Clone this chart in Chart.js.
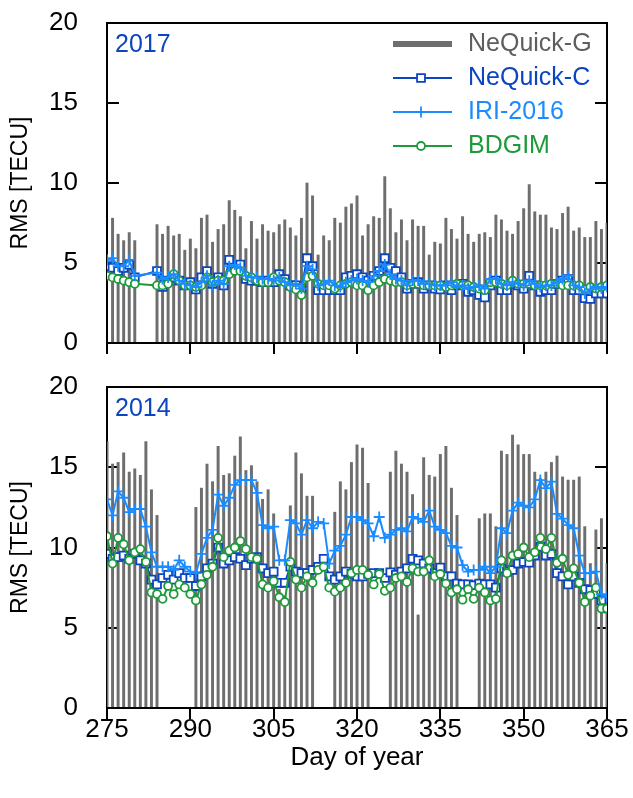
<!DOCTYPE html>
<html>
<head>
<meta charset="utf-8">
<script src="https://cdn.jsdelivr.net/npm/chart.js@4.4.1/dist/chart.umd.min.js"></script>
<style>
  html, body { margin: 0; padding: 0; background: #fff; }
  #wrap { position: relative; width: 633px; height: 798px; overflow: hidden; }
  #wrap canvas { position: absolute; left: 0; }
  #c2017 { top: 0; }
  #c2014 { top: 364px; }
</style>
</head>
<body>
<div id="wrap">
  <canvas id="c2014" width="633" height="434"></canvas>
  <canvas id="c2017" width="633" height="370"></canvas>
</div>
<script>
// Day of year (autumn season)
const days = [
  275, 276, 277, 278, 279, 280, 281, 282, 283, 284,
  285, 286, 287, 288, 289, 290, 291, 292, 293, 294,
  295, 296, 297, 298, 299, 300, 301, 302, 303, 304,
  305, 306, 307, 308, 309, 310, 311, 312, 313, 314,
  315, 316, 317, 318, 319, 320, 321, 322, 323, 324,
  325, 326, 327, 328, 329, 330, 331, 332, 333, 334,
  335, 336, 337, 338, 339, 340, 341, 342, 343, 344,
  345, 346, 347, 348, 349, 350, 351, 352, 353, 354,
  355, 356, 357, 358, 359, 360, 361, 362, 363, 364,
  365
];

const xTickLabels = [275, 290, 305, 320, 335, 350, 365];
const yTickLabels = [0, 5, 10, 15, 20];
const seriesNames = ['NeQuick-G', 'NeQuick-C', 'IRI-2016', 'BDGIM'];

// ---- 2017: RMS [TECU] per day ----
const nequickG2017 = [
  null, 7.8, 6.8, 6.4, 6.9, 6.4, null, null, null, 7.4,
  6.8, 7.3, 6.7, 6.8, 5.8, 6.5, 5.9, 7.8, 8.0, 6.3,
  7.1, 7.4, 8.9, 8.3, 7.9, 5.9, 7.6, 6.5, 7.4, 7.0,
  6.9, 7.4, 7.7, 7.2, 6.7, 7.8, 10.0, 9.2, 5.5, 6.7,
  6.4, 7.8, 7.5, 8.5, 8.7, 9.2, 6.7, 7.4, 7.9, 7.8,
  10.4, 8.4, 6.9, 7.7, 6.4, 7.7, 7.3, 7.3, 5.5, 6.3,
  6.2, 7.8, 7.1, 6.5, 7.9, 6.8, 6.3, 6.8, 6.9, 6.6,
  8.0, 7.7, 7.0, 6.8, 7.6, 8.4, 9.9, 8.2, 8.0, 8.0,
  7.2, 7.1, 8.1, 8.5, 7.0, 7.2, 6.6, 6.6, 7.6, 7.1,
  7.5
];
const nequickC2017 = [
  4.8, 4.7, 4.5, 4.7, 4.9, 4.1, null, null, null, 4.5,
  3.5, 3.9, 4.1, 3.9, 3.6, 3.8, 3.35, 4.1, 4.5, 3.7,
  4.1, 3.6, 5.2, 4.6, 4.9, 4.0, 3.9, 3.9, 3.8, 3.9,
  3.8, 4.3, 4.0, 3.6, 3.6, 3.4, 5.3, 4.8, 3.3, 3.3,
  3.3, 3.3, 3.3, 4.1, 4.2, 4.3, 4.1, 3.9, 4.2, 4.5,
  5.3, 4.7, 4.5, 4.1, 3.4, 3.7, 3.8, 3.4, 3.6, 3.4,
  3.35, 3.6, 3.3, 3.6, 3.7, 3.2, 3.3, 3.0, 2.85, 3.6,
  3.9, 3.3, 3.3, 3.7, 3.6, 3.4, 4.2, 3.6, 3.2, 3.3,
  3.3, 3.7, 3.9, 4.0, 3.3, 3.3, 2.8, 2.75, 3.1, 3.1,
  3.1
];
const iri2017 = [
  5.2, 5.3, 4.8, 4.8, 5.2, 4.2, null, null, null, 4.4,
  4.0, 4.1, 4.3, 3.9, 3.7, 3.6, 3.5, 3.8, 4.2, 3.6,
  3.9, 3.7, 4.8, 4.9, 4.7, 4.2, 4.1, 4.1, 4.0, 4.0,
  3.9, 4.1, 3.8, 3.6, 3.7, 3.4, 4.8, 4.6, 3.6, 3.7,
  3.9, 3.6, 3.5, 3.8, 3.9, 4.0, 3.9, 3.8, 4.2, 4.5,
  4.9, 4.3, 4.0, 3.9, 3.6, 3.9, 3.9, 3.7, 3.7, 3.6,
  3.6, 3.6, 3.8, 3.5, 3.6, 3.4, 3.5, 3.6, 3.4, 4.0,
  4.0, 3.7, 3.6, 3.8, 3.7, 3.6, 3.9, 3.7, 3.5, 3.6,
  3.6, 3.8, 4.0, 4.2, 3.6, 3.5, 3.1, 3.35, 3.5, 3.4,
  3.5
];
const bdgim2017 = [
  4.2, 4.1, 4.0, 3.9, 3.8, 3.7, null, null, null, 3.6,
  3.6, 3.7, 4.3, 3.9, 3.6, 3.6, 3.5, 3.6, 4.1, 3.8,
  3.9, 3.9, 4.3, 4.5, 4.5, 4.2, 4.1, 3.9, 3.8, 3.8,
  4.1, 3.9, 3.8, 3.5, 3.35, 3.0, 4.1, 4.2, 3.7, 3.6,
  3.6, 3.4, 3.6, 3.7, 3.8, 3.6, 3.6, 3.3, 3.6, 3.8,
  4.0, 3.9, 3.8, 3.8, 3.6, 3.7, 3.7, 3.6, 3.6, 3.6,
  3.6, 3.5, 3.6, 3.7, 3.6, 3.6, 3.5, 3.4, 3.3, 3.8,
  3.8, 3.7, 3.6, 3.9, 3.7, 3.7, 3.7, 3.6, 3.6, 3.6,
  3.7, 3.7, 3.6, 3.6, 3.6, 3.6, 3.35, 3.5, 3.4, 3.5,
  3.6
];

// ---- 2014: RMS [TECU] per day ----
const nequickG2014 = [
  16.6, 15.2, 15.3, 15.9, 14.7, 14.9, 14.5, 16.6, 13.6, 12.0,
  null, null, null, null, null, null, 12.5, 13.7, 15.2, 14.1,
  16.3, 14.5, 14.6, 15.7, 16.9, 14.8, 15.1, 14.1, 13.0, 13.6,
  12.1, 7.4, 7.0, 12.6, 15.9, 14.6, 13.2, 13.2, null, null,
  null, 12.2, 14.1, 13.6, 15.3, 16.4, 16.2, 14.0, null, null,
  null, 14.7, 16.0, 15.2, 14.7, 13.3, 5.8, 15.6, 14.5, 14.4,
  15.8, 16.3, 13.7, 12.0, null, null, null, 11.8, 12.1, 12.1,
  11.3, 16.0, 15.8, 17.0, 16.4, 15.8, 15.8, 14.7, 14.3, 14.7,
  15.3, 15.7, 14.4, 14.2, 14.2, 14.4, 11.3, 9.0, 11.1, 11.8,
  9.0
];
const nequickC2014 = [
  9.6, 9.3, 9.4, 9.5, 9.3, 9.6, 9.2, 9.0, 8.0, 7.7,
  8.1, 8.3, 8.0, 8.4, 8.1, 8.1, 7.6, 8.2, 8.7, 9.0,
  10.0, 9.0, 9.2, 9.4, 9.3, 8.9, 9.3, 9.4, 8.7, 8.4,
  8.5, 7.8, 7.8, 8.8, 8.5, 8.4, 8.4, 8.6, 8.8, 9.3,
  8.2, 8.0, 8.2, 8.5, 8.35, 8.2, 8.2, 8.35, 8.4, 8.4,
  8.1, 8.45, 8.3, 8.5, 8.7, 9.3, 9.2, 9.0, 8.7, 8.4,
  8.75, 8.2, 8.2, 7.75, 7.7, 7.7, 7.65, 7.75, 7.7, 7.7,
  7.5, 8.7, 8.5, 8.6, 9.0, 9.1, 9.05, 9.5, 10.05, 9.5,
  9.6, 8.4, 8.2, 7.7, 8.2, 7.8, 7.4, 7.35, 7.1, 6.7,
  6.2
];
const iri2014 = [
  13.0, 12.0, 13.5, 13.1, 12.2, 12.4, 12.4, 11.3, 9.7, 8.8,
  8.8, 8.8, 8.6, 9.2, 8.8, 8.5, 8.4, 9.6, 10.6, 11.1,
  13.3, 12.6, 13.1, 13.9, 14.2, 14.2, 14.2, 13.4, 11.4, 11.2,
  11.3, 9.2, 9.2, 11.7, 11.5, 10.8, 11.7, 11.2, 11.6, 11.5,
  9.0, 9.8, 10.1, 10.8, 11.9, 11.9, 11.7, 11.5, 10.7, 11.9,
  10.6, 10.8, 11.1, 11.2, 11.0, 11.9, 11.8, 11.6, 12.3, 11.3,
  11.1, 10.9, 10.1, 10.0, 8.9, 8.5, 8.6, 8.6, 8.8, 8.4,
  8.8, 11.2, 10.9, 12.3, 12.8, 12.6, 12.5, 13.0, 14.2, 13.7,
  14.1, 12.1, 11.8, 11.4, 11.2, 9.5, 8.4, 8.4, 8.5, 7.1,
  6.9
];
const bdgim2014 = [
  10.7, 9.0, 10.6, 10.2, 9.2, 9.7, 9.9, 9.1, 7.2, 7.1,
  6.8, 7.6, 7.1, 7.7, 7.5, 7.1, 6.7, 7.7, 8.3, 8.8,
  10.6, 9.4, 9.8, 10.0, 10.4, 9.9, 9.4, 9.3, 7.7, 7.5,
  7.9, 6.9, 6.6, 9.1, 8.0, 7.5, 8.2, 7.8, 8.6, 8.8,
  7.5, 7.25, 7.5, 7.8, 8.4, 8.6, 8.6, 8.3, 7.7, 8.35,
  7.3, 7.5, 8.1, 8.2, 7.85, 8.7, 8.5, 8.5, 9.2, 8.2,
  8.35, 7.75, 7.2, 7.4, 6.75, 7.4, 6.8, 7.5, 7.2, 6.7,
  6.8, 9.2, 8.4, 9.5, 9.6, 10.0, 9.4, 9.7, 10.6, 9.9,
  10.6, 9.05, 9.3, 8.3, 8.7, 7.8, 6.6, 7.0, 7.5, 6.2,
  6.2
];

// ---- styling ----
const FONT = "'Liberation Sans', Arial, Helvetica, sans-serif";
const COLORS = {
  gray: '#6e6e6e',
  grayText: '#5e5e5e',
  nqc: '#0b45c0',
  iri: '#1a8cff',
  bd: '#1d9a3a',
  year: '#0b45c0'
};
Chart.defaults.font.family = FONT;
Chart.defaults.color = '#000';

const toPoints = arr => days.map((d, i) => ({ x: d, y: arr[i] }));

// Frame (top + right), inward y ticks, outward x ticks
const framePlugin = {
  id: 'frame',
  beforeDatasetsDraw(chart) {
    const { ctx, chartArea: a, scales: { x, y } } = chart;
    ctx.save();
    ctx.strokeStyle = '#000';
    ctx.lineWidth = 2;
    ctx.beginPath();
    ctx.moveTo(a.left - 1, a.top);
    ctx.lineTo(a.right, a.top);
    ctx.lineTo(a.right, a.bottom);
    y.ticks.forEach(t => {
      const py = Math.round(y.getPixelForValue(t.value));
      ctx.moveTo(a.left, py); ctx.lineTo(a.left + 12, py);
      ctx.moveTo(a.right, py); ctx.lineTo(a.right - 12, py);
    });
    x.ticks.forEach(t => {
      const px = Math.round(x.getPixelForValue(t.value));
      ctx.moveTo(px, a.bottom); ctx.lineTo(px, a.bottom + 11);
    });
    ctx.stroke();
    ctx.restore();
  },
  afterDatasetsDraw(chart) {
    const { ctx, chartArea: a } = chart;
    ctx.save();
    ctx.strokeStyle = '#000';
    ctx.lineWidth = 2;
    ctx.beginPath();
    ctx.moveTo(a.left - 1, a.bottom);
    ctx.lineTo(a.right + 1, a.bottom);
    ctx.stroke();
    ctx.restore();
  }
};

// Year tag in the upper-left corner of a panel
const yearPlugin = {
  id: 'yearTag',
  afterDraw(chart, args, opts) {
    const { ctx, chartArea: a } = chart;
    ctx.save();
    ctx.font = '25px ' + FONT;
    ctx.fillStyle = COLORS.year;
    ctx.textAlign = 'left';
    ctx.textBaseline = 'middle';
    ctx.fillText(opts.text, a.left + 8, a.top + 22);
    ctx.restore();
  }
};

// Legend drawn inside the 2017 panel, using each dataset's own style
const legendPlugin = {
  id: 'insideLegend',
  afterDraw(chart, args, opts) {
    if (!opts.show) return;
    const { ctx } = chart;
    const byName = {};
    chart.data.datasets.forEach(ds => { byName[ds.label] = ds; });
    const x0 = 393, x1 = 452, xm = 421, xt = 468, y0 = 44, dy = 34;
    ctx.save();
    seriesNames.forEach((name, i) => {
      const ds = byName[name];
      const yy = y0 + i * dy;
      ctx.beginPath();
      if (ds.type === 'bar') {
        ctx.strokeStyle = ds.backgroundColor;
        ctx.lineWidth = 6;
      } else {
        ctx.strokeStyle = ds.borderColor;
        ctx.lineWidth = ds.borderWidth;
      }
      ctx.moveTo(x0, yy); ctx.lineTo(x1, yy);
      ctx.stroke();
      if (ds.type !== 'bar') {
        ctx.fillStyle = ds.pointBackgroundColor;
        ctx.strokeStyle = ds.pointBorderColor;
        ctx.lineWidth = ds.pointBorderWidth;
        Chart.helpers.drawPoint(ctx, {
          pointStyle: ds.pointStyle, radius: ds.pointRadius, rotation: 0,
          borderWidth: ds.pointBorderWidth
        }, xm, yy);
      }
      ctx.font = '25px ' + FONT;
      ctx.textAlign = 'left';
      ctx.textBaseline = 'middle';
      ctx.fillStyle = ds.type === 'bar' ? COLORS.grayText : ds.borderColor;
      ctx.fillText(name, xt, yy);
    });
    ctx.restore();
  }
};

function makePanel(canvasId, year, g, c, iri, bd, cfg) {
  const lineDs = (label, arr, color, style, radius, order) => ({
    type: 'line',
    label,
    data: toPoints(arr),
    borderColor: color,
    borderWidth: 2,
    pointStyle: style,
    pointRadius: radius,
    pointBorderColor: color,
    pointBackgroundColor: '#fff',
    pointBorderWidth: 1.8,
    tension: 0,
    spanGaps: true,
    order
  });
  return new Chart(document.getElementById(canvasId), {
    type: 'bar',
    data: {
      datasets: [
        {
          type: 'bar',
          label: seriesNames[0],
          data: toPoints(g),
          backgroundColor: COLORS.gray,
          borderWidth: 0,
          barThickness: 2.3,
          order: 4
        },
        lineDs(seriesNames[1], c, COLORS.nqc, 'rect', 5.6, 3),
        lineDs(seriesNames[2], iri, COLORS.iri, 'cross', 5.5, 1),
        lineDs(seriesNames[3], bd, COLORS.bd, 'circle', 4, 2)
      ]
    },
    options: {
      responsive: false,
      animation: false,
      devicePixelRatio: 1,
      events: [],
      layout: { padding: { top: 23, right: 26, bottom: 0, left: 0 } },
      plugins: {
        legend: { display: false },
        tooltip: { enabled: false },
        yearTag: { text: year },
        insideLegend: { show: cfg.legend }
      },
      scales: {
        x: {
          type: 'linear',
          min: 275,
          max: 365,
          offset: false,
          grid: { display: false, drawTicks: false },
          border: { display: true, color: '#000', width: 2 },
          afterBuildTicks: s => { s.ticks = xTickLabels.map(v => ({ value: v })); },
          afterFit: s => { s.height = cfg.xHeight; s.paddingLeft = 0; s.paddingRight = 0; },
          ticks: {
            display: cfg.xLabels,
            padding: 6,
            maxRotation: 0,
            autoSkip: false,
            color: '#000',
            font: { size: 26 }
          },
          title: {
            display: cfg.xLabels,
            text: 'Day of year',
            color: '#000',
            font: { size: 26 },
            padding: { top: 0, bottom: 25 }
          }
        },
        y: {
          min: 0,
          max: 20,
          grid: { display: false, drawTicks: false },
          border: { display: true, color: '#000', width: 2 },
          afterBuildTicks: s => { s.ticks = yTickLabels.map(v => ({ value: v })); },
          afterFit: s => { s.width = 107; s.paddingTop = 0; s.paddingBottom = 0; },
          ticks: { padding: 29, color: '#000', font: { size: 26 } },
          title: {
            display: true,
            text: 'RMS [TECU]',
            color: '#000',
            font: { size: 23 },
            padding: { top: 7, bottom: 0 }
          }
        }
      }
    },
    plugins: [framePlugin, yearPlugin, legendPlugin]
  });
}

makePanel('c2017', '2017', nequickG2017, nequickC2017, iri2017, bdgim2017,
  { xHeight: 27, xLabels: false, legend: true });
makePanel('c2014', '2014', nequickG2014, nequickC2014, iri2014, bdgim2014,
  { xHeight: 90, xLabels: true, legend: false });
</script>
</body>
</html>
